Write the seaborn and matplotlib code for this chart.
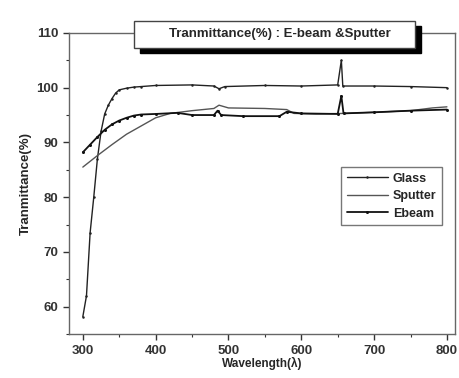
import matplotlib
matplotlib.use("Agg")
import matplotlib.pyplot as plt
import seaborn as sns
import pandas as pd
from matplotlib.patches import Rectangle
from matplotlib.ticker import MultipleLocator

sns.set_style("ticks")
plt.rcParams['font.family'] = ['Liberation Sans', 'DejaVu Sans']

glass_x = [300, 305, 310, 315, 320, 325, 330, 335, 340, 345, 350, 360, 370, 380, 400, 450, 480, 487, 495, 550, 600, 650, 655, 657, 700, 750, 800]
glass_y = [58.2, 62, 73.5, 80, 87, 92, 95.2, 96.8, 98, 99, 99.6, 99.9, 100.1, 100.2, 100.4, 100.5, 100.3, 99.8, 100.2, 100.4, 100.3, 100.5, 105, 100.3, 100.3, 100.2, 100]

sputter_x = [300, 320, 340, 360, 380, 400, 420, 450, 480, 487, 500, 550, 580, 590, 620, 660, 700, 750, 780, 800]
sputter_y = [85.5, 87.6, 89.6, 91.5, 93.0, 94.5, 95.3, 95.8, 96.2, 96.8, 96.3, 96.2, 96.0, 95.3, 95.2, 95.3, 95.5, 95.8, 96.3, 96.5]

ebeam_x = [300, 310, 320, 330, 340, 350, 360, 370, 380, 400, 430, 450, 480, 485, 490, 520, 570, 580, 600, 650, 655, 658, 700, 750, 800]
ebeam_y = [88.2, 89.6, 91.0, 92.3, 93.3, 94.0, 94.5, 94.9, 95.1, 95.2, 95.4, 95.0, 95.0, 95.8, 95.0, 94.8, 94.8, 95.6, 95.3, 95.2, 98.5, 95.3, 95.5, 95.8, 96.0]

title = "Tranmittance(%) : E-beam &Sputter"
xlabel = "Wavelength(λ)"
ylabel = "Tranmittance(%)"

fig = plt.figure(figsize=(4.6, 3.78), dpi=100)
ax = fig.add_axes([0.15, 0.116, 0.839, 0.797])

sns.lineplot(x=glass_x, y=glass_y, ax=ax, color="#222222", lw=1.0, marker="o", markersize=1.8, markeredgewidth=0, label="Glass")
sns.lineplot(x=sputter_x, y=sputter_y, ax=ax, color="#555555", lw=1.0, label="Sputter")
sns.lineplot(x=ebeam_x, y=ebeam_y, ax=ax, color="#111111", lw=1.3, marker="o", markersize=2.2, markeredgewidth=0, label="Ebeam")

ax.set_xlim(281, 811)
ax.set_ylim(55, 110)
ax.xaxis.set_major_locator(MultipleLocator(100))
ax.xaxis.set_minor_locator(MultipleLocator(50))
ax.yaxis.set_major_locator(MultipleLocator(10))
ax.yaxis.set_minor_locator(MultipleLocator(5))
ax.tick_params(which="both", direction="out", top=False, right=False, colors="#333333")
ax.tick_params(which="major", length=4, width=1, labelsize=9.5)
ax.tick_params(which="minor", length=2.5, width=0.8)
for lab in ax.get_xticklabels() + ax.get_yticklabels():
    lab.set_fontweight("bold")
for s in ax.spines.values():
    s.set_color("#666666")
    s.set_linewidth(1.0)

ax.set_xlabel(xlabel, fontsize=8.5, fontweight="bold", labelpad=0)
ax.set_ylabel(ylabel, fontsize=9.5, fontweight="bold", labelpad=3)

leg = ax.legend(loc="upper left", bbox_to_anchor=(0.705, 0.555), frameon=True, fancybox=False,
                fontsize=9, handlelength=3.3, borderpad=0.45, labelspacing=0.45, handletextpad=0.4,
                borderaxespad=0)
leg.get_frame().set_edgecolor("#555555")
leg.get_frame().set_linewidth(1.0)
for t in leg.get_texts():
    t.set_fontweight("bold")

# title box with shadow
x0, y0, w, h = 134/460, 1-48/378, 281/460, 27/378
fig.patches.append(Rectangle((x0+6/460, y0-5/378), w, h, transform=fig.transFigure, facecolor="black", edgecolor="black", zorder=5))
fig.patches.append(Rectangle((x0, y0), w, h, transform=fig.transFigure, facecolor="white", edgecolor="#444444", lw=1.0, zorder=6))
fig.text(x0 + w/2 + 0.012, y0 + h/2, title, ha="center", va="center", fontsize=9.5, fontweight="bold", zorder=7)

fig.savefig("out.png", dpi=100)
